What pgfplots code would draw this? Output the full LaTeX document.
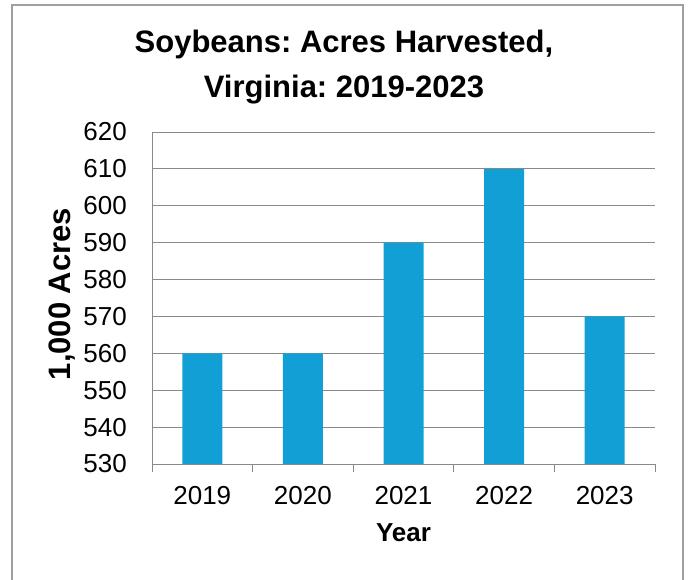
\documentclass[border=0pt]{standalone}
\usepackage{fontspec}
\setmainfont{Liberation Sans}
\usepackage{pgfplots}
\pgfplotsset{compat=1.18}
\definecolor{barblue}{RGB}{18,159,214}
\definecolor{gridgray}{RGB}{137,137,137}
\definecolor{framegray}{RGB}{160,160,160}
\frenchspacing

\begin{document}
\begin{tikzpicture}[x=1pt,y=1pt]
  \useasboundingbox (0,0) rectangle (691,580);
  \draw[framegray, line width=1.3pt] (12,-5) -- (12,575) -- (683,575) -- (683,-5);

  \begin{axis}[
      at={(152pt,116pt)}, anchor=south west,
      scale only axis, width=503pt, height=332pt,
      xmin=-0.5, xmax=4.5, ymin=530, ymax=620,
      axis lines=left,
      axis line style={gridgray, -, line width=0.8pt},
      xtick={-0.5,0.5,1.5,2.5,3.5,4.5},
      x tick label as interval,
      xticklabels={2019,2020,2021,2022,2023},
      ytick={530,540,...,620},
      ymajorgrids,
      grid style={gridgray, line width=0.8pt},
      tick align=outside,
      major tick length=8pt,
      xtick style={gridgray, line width=0.8pt},
      ytick style={draw=none},
      /pgf/number format/assume math mode=true,
      /pgf/number format/1000 sep={},
      tick label style={font=\fontsize{26}{30}\selectfont},
      x tick label style={anchor=base, yshift=-33pt},
      y tick label style={anchor=east, inner sep=0pt, xshift=-17pt},
      xlabel={Year},
      ylabel={1,000 Acres},
      xlabel style={font=\bfseries\fontsize{26}{30}\selectfont,
                    at={(rel axis cs:0.5,0)}, anchor=base, yshift=-78pt},
      ylabel style={font=\bfseries\fontsize{31}{35}\selectfont,
                    at={(rel axis cs:0,0.5)}, anchor=base, yshift=81pt, xshift=4pt},
    ]
    \addplot[ybar, bar width=40pt, fill=barblue, draw=none]
      coordinates {(0,560) (1,560) (2,590) (3,610) (4,570)};
  \end{axis}

  \node[font=\bfseries\fontsize{31}{35}\selectfont, anchor=base] at (344,527) {Soybeans: Acres Harvested,};
  \node[font=\bfseries\fontsize{31}{35}\selectfont, anchor=base] at (344,482) {Virginia: 2019-2023};
\end{tikzpicture}
\end{document}
